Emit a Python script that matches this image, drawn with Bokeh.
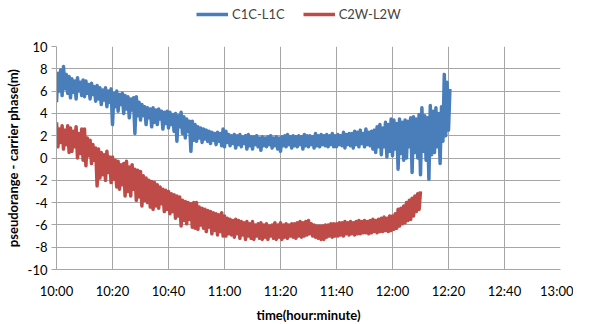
from bokeh.plotting import figure
from bokeh.layouts import column
from bokeh.models import Range1d, FixedTicker, Legend, LegendItem
from bokeh.embed import file_html
from bokeh.resources import INLINE

# ---- data: values read every half minute after 10:00 (metres) ----
blue_vals = [
    5.0, 7.6, 6.0, 7.9, 5.6, 8.2, 6.2, 7.5, 5.8, 7.3,
    5.4, 7.1, 5.9, 6.9, 5.3, 7.2, 6.0, 6.8, 5.6, 7.0,
    5.5, 6.9, 5.8, 6.6, 5.3, 6.7, 5.7, 6.4, 5.1, 6.5,
    5.3, 6.3, 4.8, 6.1, 5.2, 6.3, 4.6, 6.0, 5.0, 6.2,
    3.0, 5.8, 4.6, 6.0, 4.2, 5.7, 4.8, 5.8, 4.0, 5.6,
    4.4, 5.5, 3.6, 5.3, 4.3, 5.4, 2.2, 5.5, 3.8, 5.0,
    3.4, 4.8, 3.8, 4.6, 3.0, 4.5, 3.6, 4.4, 2.8, 4.5,
    3.2, 4.3, 3.0, 4.4, 3.5, 4.2, 2.6, 4.1, 3.1, 4.2,
    2.7, 4.1, 3.0, 3.9, 2.4, 4.0, 1.5, 3.8, 2.8, 4.1,
    2.2, 3.7, 1.8, 3.5, 2.4, 3.3, 0.6, 3.3, 1.6, 3.0,
    1.5, 2.8, 1.8, 2.7, 1.4, 2.6, 1.7, 2.5, 1.5, 2.4,
    1.3, 2.3, 1.6, 2.2, 1.2, 2.3, 1.5, 2.2, 1.1, 2.6,
    1.0, 2.4, 1.4, 2.1, 1.1, 2.0, 1.3, 2.1, 0.9, 2.0,
    1.2, 2.1, 1.0, 1.9, 1.3, 2.0, 0.8, 2.1, 1.1, 1.9,
    0.8, 1.9, 1.2, 2.0, 1.0, 1.8, 0.7, 1.9, 1.1, 1.8,
    1.0, 1.9, 1.2, 2.0, 0.9, 1.8, 1.1, 1.9, 0.8, 1.8,
    0.6, 1.9, 1.1, 2.0, 1.0, 2.1, 1.2, 1.9, 0.9, 2.0,
    1.1, 1.9, 1.0, 2.0, 1.2, 1.9, 0.8, 2.1, 1.1, 2.0,
    1.0, 2.0, 1.2, 1.9, 0.9, 2.2, 1.1, 2.0, 1.0, 2.1,
    1.2, 2.0, 1.1, 2.1, 1.0, 2.0, 1.2, 2.2, 1.0, 2.0,
    1.0, 2.1, 1.2, 2.0, 1.1, 2.3, 0.9, 2.1, 1.2, 2.2,
    1.1, 2.2, 0.9, 2.4, 1.2, 2.3, 1.0, 2.5, 1.3, 2.2,
    1.0, 2.6, 1.2, 2.3, 1.1, 2.4, 0.8, 2.5, 0.5, 2.8,
    1.0, 3.0, 0.3, 2.7, 1.0, 3.2, 0.1, 3.0, 0.6, 3.5,
    0.2, 3.4, 0.8, 3.1, -1.0, 3.5, 0.4, 3.2, -0.2, 3.4,
    0.0, 3.3, 1.0, 3.6, -1.3, 3.7, 0.5, 3.5, 0.0, 3.9,
    -1.5, 4.5, 0.6, 3.8, -0.2, 3.6, -1.9, 4.7, 0.3, 4.2,
    0.5, 4.5, 1.0, 4.0, -0.5, 4.6, 1.5, 7.5, 2.0, 6.8,
    2.5, 6.2,
]
blue_min = [i * 0.5 for i in range(len(blue_vals))]

red_vals = [
    3.2, 1.0, 2.6, 1.4, 2.9, 0.8, 2.5, 1.2, 2.9, 0.5,
    2.7, 0.6, 2.4, 1.0, 2.8, 0.0, 2.2, 0.4, 2.6, -0.2,
    2.6, -0.7, 1.8, 0.2, 1.6, -0.5, 1.2, -0.2, 0.9, -2.5,
    0.8, -1.8, 0.5, -1.5, 0.3, -2.0, 0.6, -1.3, 0.1, -2.2,
    0.1, -1.9, -0.2, -2.6, -0.3, -2.8, -0.6, -2.4, -0.5, -3.4,
    -0.3, -3.0, -0.8, -3.4, -0.6, -2.8, -1.0, -3.8, -1.1, -3.5,
    -1.2, -4.3, -1.6, -3.8, -1.8, -4.0, -2.0, -4.4, -2.1, -4.6,
    -2.2, -4.3, -2.4, -4.5, -2.6, -4.1, -2.8, -4.8, -2.9, -4.6,
    -3.0, -5.0, -3.2, -4.8, -3.3, -5.4, -3.4, -5.2, -3.5, -6.1,
    -3.8, -5.6, -3.9, -5.9, -4.0, -5.5, -4.1, -6.2, -4.0, -6.3,
    -4.0, -6.4, -4.4, -6.0, -4.5, -6.3, -4.6, -6.6, -4.7, -6.2,
    -4.8, -6.8, -4.9, -6.5, -5.0, -6.9, -5.1, -6.6, -4.9, -7.0,
    -5.2, -7.0, -5.4, -6.8, -5.5, -6.9, -5.6, -7.1, -5.5, -6.8,
    -5.6, -7.2, -5.7, -6.9, -5.8, -7.3, -5.7, -7.0, -5.9, -7.2,
    -5.7, -7.3, -6.0, -7.0, -5.9, -7.2, -5.8, -7.3, -6.0, -7.1,
    -5.9, -7.3, -6.1, -7.0, -6.0, -7.2, -5.8, -7.3, -6.0, -7.1,
    -5.8, -7.3, -6.0, -7.1, -5.9, -7.2, -6.0, -7.0, -5.9, -7.1,
    -5.9, -7.2, -5.8, -7.0, -5.7, -7.1, -5.8, -7.0, -5.7, -6.9,
    -5.6, -6.8, -5.9, -7.0, -6.0, -7.1, -6.1, -7.2, -6.1, -7.3,
    -6.1, -7.3, -6.0, -7.1, -6.0, -7.0, -5.9, -7.1, -5.9, -7.0,
    -5.9, -7.0, -5.8, -6.9, -5.8, -7.0, -5.7, -6.8, -5.8, -6.9,
    -5.7, -6.8, -5.8, -6.9, -5.7, -6.8, -5.6, -6.8, -5.7, -6.7,
    -5.6, -6.7, -5.7, -6.8, -5.6, -6.7, -5.5, -6.6, -5.6, -6.7,
    -5.5, -6.6, -5.4, -6.6, -5.3, -6.5, -5.4, -6.6, -5.2, -6.5,
    -5.2, -6.4, -5.0, -6.3, -4.6, -6.1, -4.5, -5.9, -4.3, -5.8,
    -4.0, -5.6, -3.8, -5.5, -3.6, -5.2, -3.4, -4.8, -3.2, -4.6,
    -3.0,
]
red_min = [i * 0.5 for i in range(len(red_vals))]

x_ticks = [0, 20, 40, 60, 80, 100, 120, 140, 160, 180]
x_tick_labels = ["10:00", "10:20", "10:40", "11:00", "11:20", "11:40",
                 "12:00", "12:20", "12:40", "13:00"]
y_ticks = [-10, -8, -6, -4, -2, 0, 2, 4, 6, 8, 10]

series_names = ["C1C-L1C", "C2W-L2W"]
BLUE = "#4A7EBB"
RED = "#BE4B48"
FONT = "Lato"
GRID = "#A6A6A6"
LW = 3.5
NAN = float("nan")

# ---- legend strip (separate small figure above the chart) ----
lf = figure(width=573, height=28, output_backend="svg", toolbar_location=None,
            x_range=Range1d(0, 1), y_range=Range1d(0, 1),
            x_axis_type=None, y_axis_type=None, min_border=0)
lf.outline_line_color = None
lb = lf.line([NAN], [NAN], line_color=BLUE, line_width=LW)
lr = lf.line([NAN], [NAN], line_color=RED, line_width=LW)
legend = Legend(items=[LegendItem(label=series_names[0], renderers=[lb]),
                       LegendItem(label=series_names[1], renderers=[lr])],
                orientation="horizontal", location=(140, 6),
                border_line_color=None, background_fill_alpha=0,
                label_text_font=FONT, label_text_font_size="13px",
                glyph_width=32, glyph_height=14, spacing=18, padding=0,
                margin=0, label_standoff=4)
lf.add_layout(legend)

# ---- main chart ----
p = figure(frame_width=504, frame_height=223, output_backend="svg",
           toolbar_location=None,
           x_range=Range1d(0, 180), y_range=Range1d(-10, 10),
           min_border_left=56, min_border_right=13, min_border_top=18,
           min_border_bottom=50)
p.outline_line_color = None
p.background_fill_color = "white"
p.border_fill_color = "white"

p.line(blue_min, blue_vals, line_color=BLUE, line_width=LW, line_join="round")
p.line(red_min, red_vals, line_color=RED, line_width=LW, line_join="round")

p.xaxis.ticker = FixedTicker(ticks=x_ticks)
p.xaxis.major_label_overrides = {t: l for t, l in zip(x_ticks, x_tick_labels)}
p.yaxis.ticker = FixedTicker(ticks=y_ticks)
p.yaxis.major_label_overrides = {t: str(t) for t in y_ticks}

for ax in (p.xaxis[0], p.yaxis[0]):
    ax.axis_line_color = GRID
    ax.major_tick_line_color = GRID
    ax.minor_tick_line_color = None
    ax.major_label_text_font = FONT
    ax.major_label_text_font_size = "13px"
    ax.major_label_text_color = "black"
    ax.axis_label_text_font = FONT
    ax.axis_label_text_font_size = "13px"
    ax.axis_label_text_font_style = "bold"
    ax.axis_label_text_color = "black"

p.xaxis.major_tick_out = 0
p.xaxis.major_tick_in = 0
p.xaxis.major_label_standoff = 13
p.xaxis.axis_label = "time(hour:minute)"
p.xaxis.axis_label_standoff = 5

p.yaxis.major_tick_out = 5
p.yaxis.major_tick_in = 0
p.yaxis.major_label_standoff = 4
p.yaxis.axis_label = "pseudorange - carrier phase(m)"
p.yaxis.axis_label_standoff = 4

p.xgrid.ticker = FixedTicker(ticks=x_ticks)
p.ygrid.ticker = FixedTicker(ticks=y_ticks)
for g in (p.xgrid[0], p.ygrid[0]):
    g.grid_line_color = GRID
    g.grid_line_width = 1

layout = column(lf, p, spacing=0)
open("out.html", "w").write(file_html(layout, INLINE))
